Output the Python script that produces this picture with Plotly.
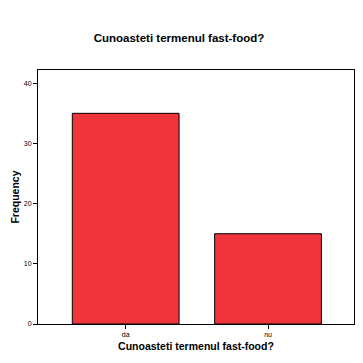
import plotly.graph_objects as go

categories = ["da", "nu"]
frequencies = [35, 15]
y_ticks = [0, 10, 20, 30, 40]

W = H = 355  # page has 8px body margin

fig = go.Figure(go.Bar(
    x=categories, y=frequencies, width=0.75,
    marker=dict(color="#f0343c", line=dict(color="black", width=1)),
))

font = "Liberation Sans, Arial, sans-serif"
fig.update_layout(
    width=W, height=H,
    margin=dict(l=30, r=9, t=62, b=39, autoexpand=False),
    paper_bgcolor="white", plot_bgcolor="white",
    showlegend=False,
    font=dict(family=font, color="black"),
    title=dict(text="<b>Cunoasteti termenul fast-food?</b>", x=171/W, xanchor="center",
               y=1 - 30/H, yanchor="middle", font=dict(size=11.5, family=font, color="black")),
)
fig.update_xaxes(
    range=[-0.616, 1.604], showline=True, linecolor="black", linewidth=1, mirror=True,
    ticks="outside", ticklen=4, tickcolor="black", tickfont=dict(size=7, color="black"),
    title=dict(text="<b>Cunoasteti termenul fast-food?</b>", font=dict(size=10.5, color="black"), standoff=5),
    showgrid=False, automargin=False,
)
fig.update_yaxes(
    range=[0, 42.2], tickvals=y_ticks, showline=True, linecolor="black", linewidth=1, mirror=True,
    ticks="outside", ticklen=4, tickcolor="black", tickfont=dict(size=7, color="black"),
    title=dict(text="<b>Frequency</b>", font=dict(size=10.5, color="black"), standoff=2),
    showgrid=False, zeroline=False, automargin=False,
)
fig.write_html("out.html")
